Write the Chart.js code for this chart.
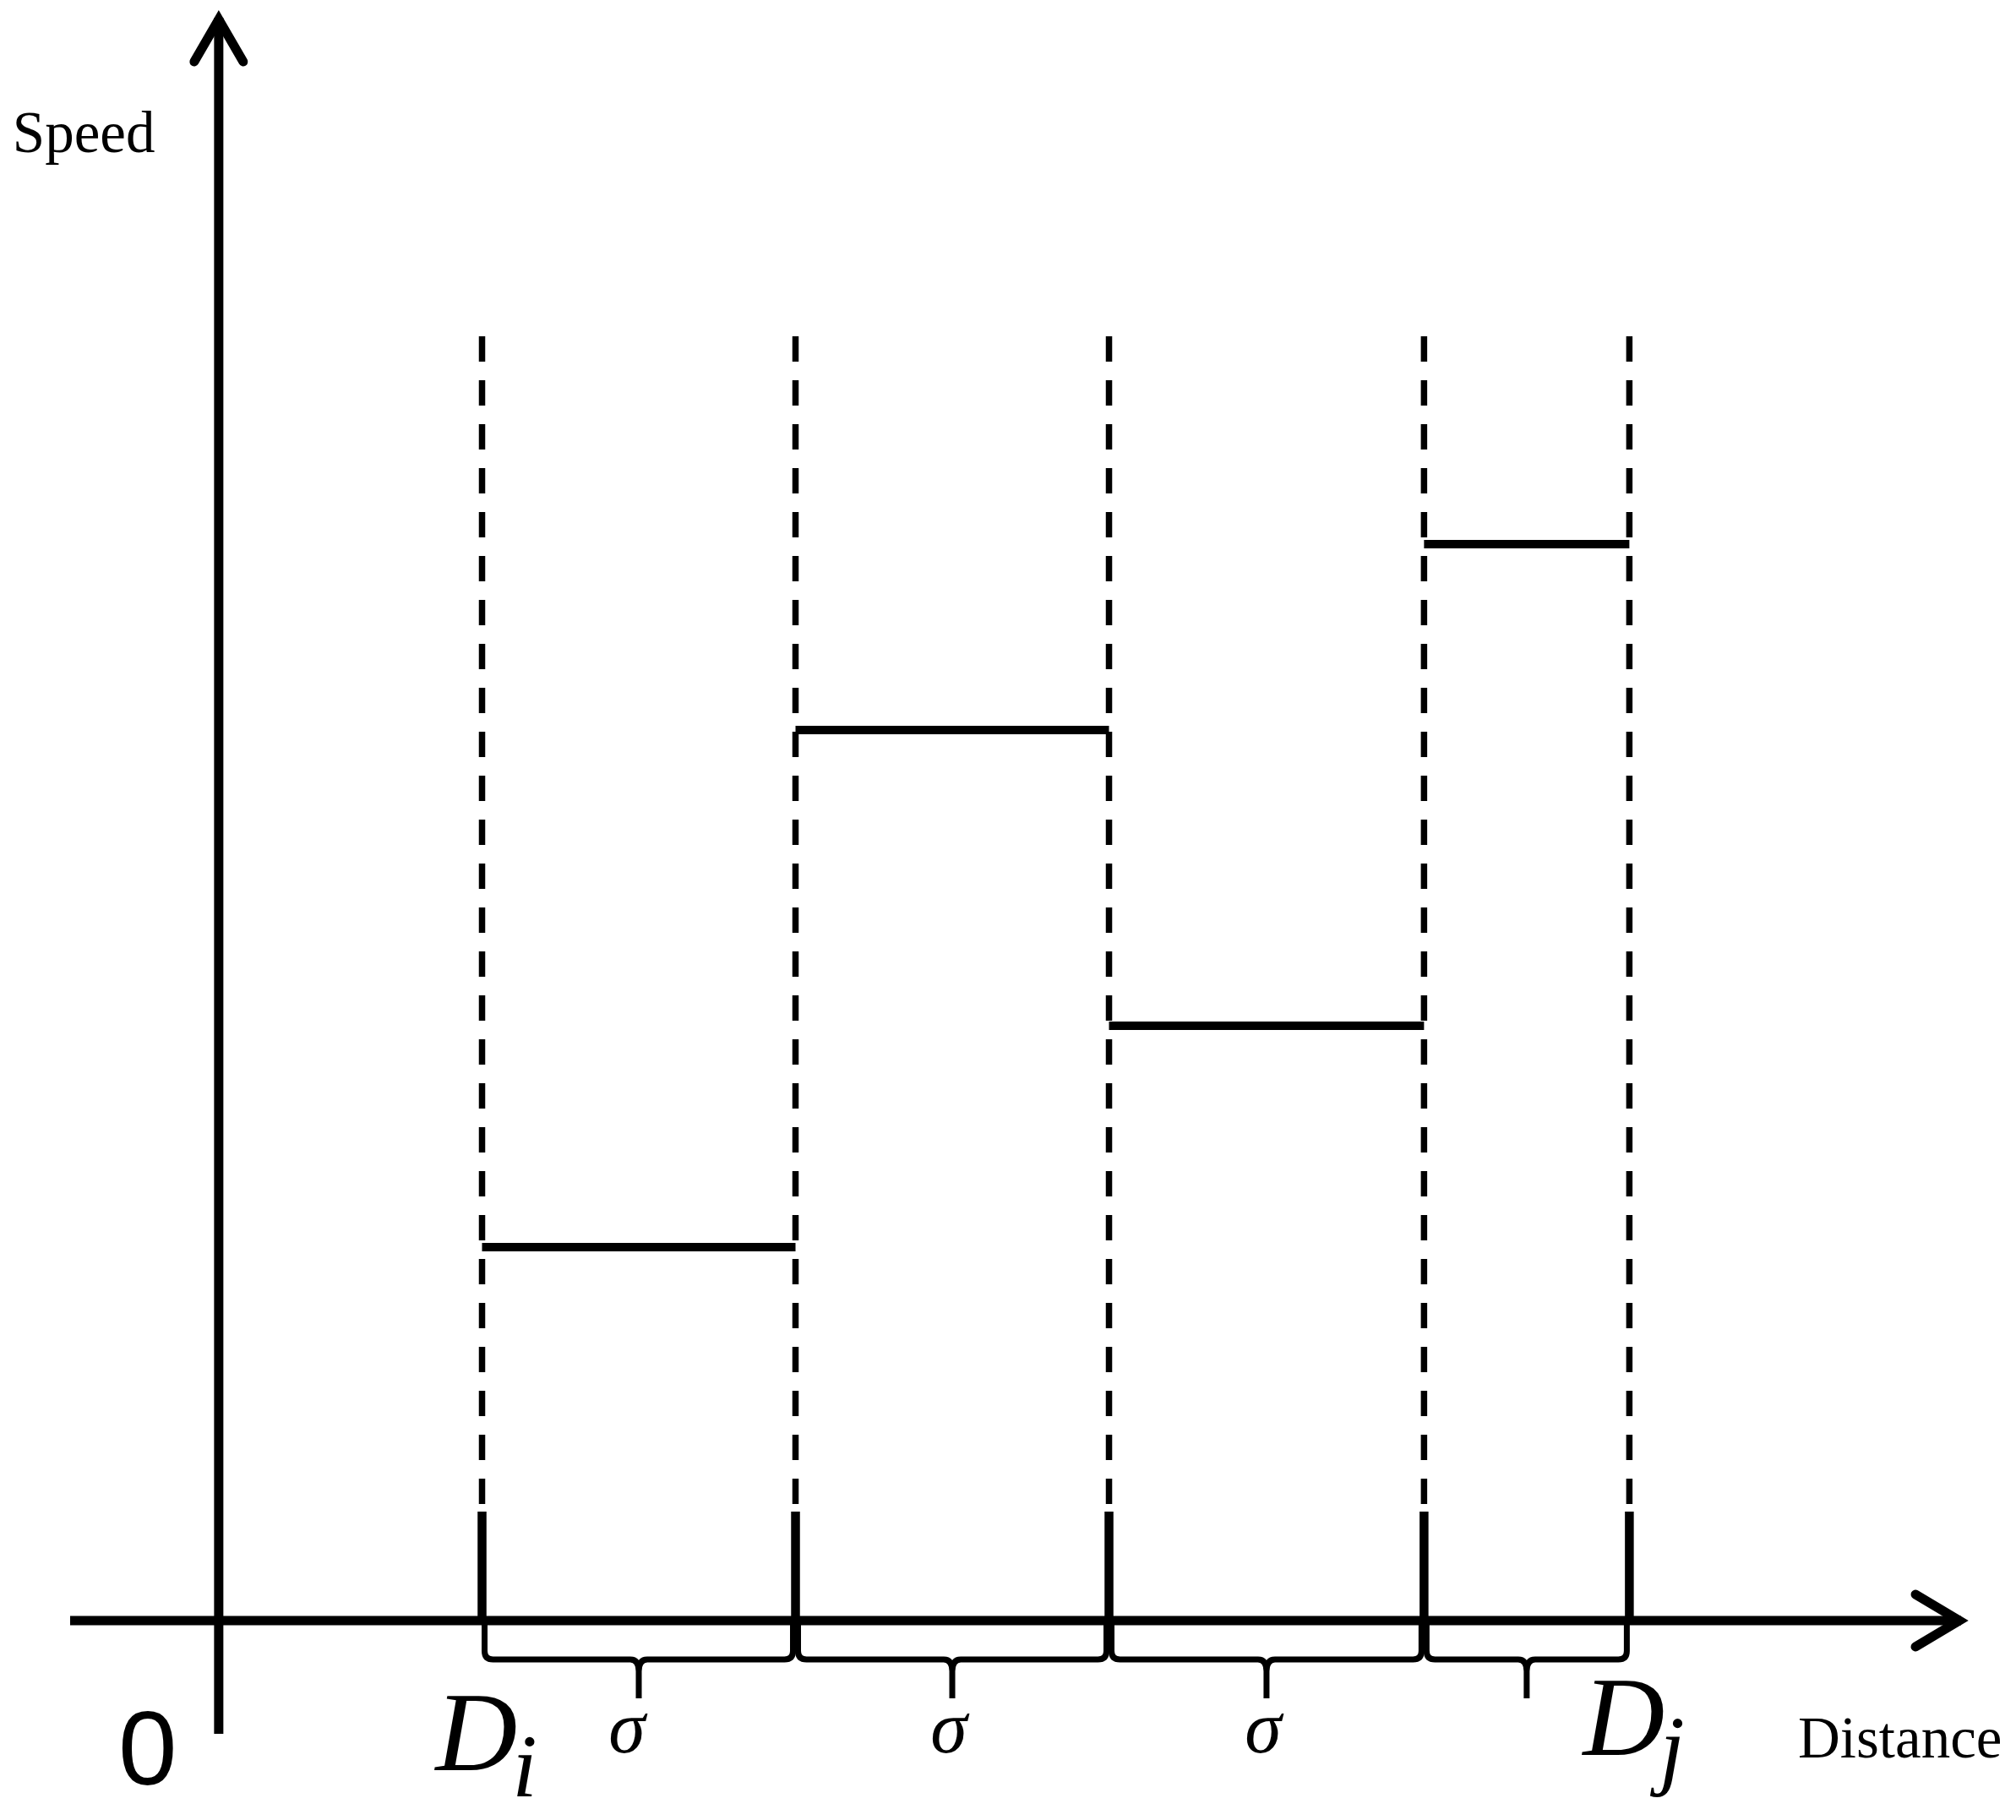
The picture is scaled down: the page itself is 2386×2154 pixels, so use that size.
<!DOCTYPE html>
<html><head><meta charset="utf-8">
<script src="https://cdn.jsdelivr.net/npm/chart.js@4/dist/chart.umd.min.js"></script>
<style>html,body{margin:0;padding:0;background:#fff}#wrap{width:2386px;height:2154px}</style>
</head><body><div id="wrap"><canvas id="c" width="2386" height="2154"></canvas></div>
<script>
// ---- data ----
const breakpoints = [8.4, 18.4, 28.4, 38.45, 45.0];   // distance of each boundary
const speeds = [4.42, 10.54, 7.04, 12.74];           // speed in each interval
const dashTop = 15.2;                                 // top of the dashed boundary lines
const tickTop = 1.29;                                 // top of the solid boundary ticks
const axisXRange = [-4.74, 55.69];
const axisYRange = [-1.34, 19.01];
const boundaryLabels = [{base: 'D', sub: 'i', at: 0}, {base: 'D', sub: 'j', at: 4}];
const intervalLabel = 'σ';
const intervalLabeled = [true, true, true, false];
const axisTitleX = 'Distance';
const axisTitleY = 'Speed';
const originLabel = '0';

// ---- datasets ----
const datasets = [];
speeds.forEach((s, i) => {
  datasets.push({data: [{x: breakpoints[i], y: s}, {x: breakpoints[i + 1], y: s}],
    borderColor: '#000', borderWidth: 10, pointRadius: 0, showLine: true});
});
breakpoints.forEach(b => {
  datasets.push({data: [{x: b, y: dashTop}, {x: b, y: tickTop}],
    borderColor: '#000', borderWidth: 7.5, borderDash: [30, 22], pointRadius: 0, showLine: true});
  datasets.push({data: [{x: b, y: tickTop}, {x: b, y: 0}],
    borderColor: '#000', borderWidth: 10.5, pointRadius: 0, showLine: true});
});

const diagram = {
  id: 'diagram',
  afterDatasetsDraw(chart) {
    const ctx = chart.ctx, xs = chart.scales.x, ys = chart.scales.y;
    const x0 = xs.getPixelForValue(0), y0 = ys.getPixelForValue(0);
    const xL = xs.getPixelForValue(axisXRange[0]), xR = xs.getPixelForValue(axisXRange[1]);
    const yB = ys.getPixelForValue(axisYRange[0]), yT = ys.getPixelForValue(axisYRange[1]);
    ctx.save();
    ctx.strokeStyle = '#000'; ctx.fillStyle = '#000';
    ctx.lineWidth = 11; ctx.lineCap = 'butt';
    // x axis
    ctx.beginPath(); ctx.moveTo(xL, y0); ctx.lineTo(xR - 4, y0); ctx.stroke();
    // y axis
    ctx.beginPath(); ctx.moveTo(x0, yB); ctx.lineTo(x0, yT + 4); ctx.stroke();
    // arrow heads
    ctx.lineJoin = 'miter'; ctx.lineCap = 'round';
    ctx.beginPath(); ctx.moveTo(xR - 58, y0 - 31); ctx.lineTo(xR - 6, y0); ctx.lineTo(xR - 58, y0 + 31); ctx.stroke();
    ctx.beginPath(); ctx.moveTo(x0 - 29, yT + 56); ctx.lineTo(x0, yT + 6); ctx.lineTo(x0 + 29, yT + 56); ctx.stroke();
    // braces
    ctx.lineWidth = 7; ctx.lineCap = 'butt'; ctx.lineJoin = 'round';
    const yh = y0 + 46, yTip = y0 + 92;
    for (let i = 0; i < speeds.length; i++) {
      const a = xs.getPixelForValue(breakpoints[i]) + 3;
      const b = xs.getPixelForValue(breakpoints[i + 1]) - 3;
      const m = (a + b) / 2;
      ctx.beginPath();
      ctx.moveTo(a, y0 + 5); ctx.lineTo(a, yh - 10);
      ctx.quadraticCurveTo(a, yh, a + 10, yh);
      ctx.lineTo(m - 10, yh);
      ctx.quadraticCurveTo(m, yh, m, yh + 14);
      ctx.lineTo(m, yTip);
      ctx.moveTo(m, yh + 14);
      ctx.quadraticCurveTo(m, yh, m + 10, yh);
      ctx.lineTo(b - 10, yh);
      ctx.quadraticCurveTo(b, yh, b, yh - 10);
      ctx.lineTo(b, y0 + 5);
      ctx.stroke();
      if (intervalLabeled[i]) {
        ctx.font = 'italic 88px "Liberation Serif"';
        ctx.textAlign = 'center'; ctx.textBaseline = 'alphabetic';
        ctx.fillText(intervalLabel, m - (i === 0 ? 14 : 4), y0 + 156);
      }
    }
    // boundary labels
    boundaryLabels.forEach(l => {
      const px = xs.getPixelForValue(breakpoints[l.at]);
      const base = l.sub === 'i' ? y0 + 177 : y0 + 159;
      ctx.textAlign = 'left'; ctx.textBaseline = 'alphabetic';
      ctx.font = 'italic 134px "Liberation Serif"';
      const bx = px - 55;
      ctx.fillText(l.base, bx, base);
      const w = ctx.measureText(l.base).width;
      ctx.font = 'italic 106px "Liberation Serif"';
      ctx.fillText(l.sub, bx + w - 6, l.sub === 'i' ? y0 + 208 : y0 + 186);
    });
    // axis titles
    ctx.font = '69px "Liberation Serif"';
    ctx.textAlign = 'left';
    ctx.fillText(axisTitleY, x0 - 244, yT + 163);
    ctx.fillText(axisTitleX, xR - 197, y0 + 162);
    ctx.font = '125px "Liberation Sans"';
    ctx.textAlign = 'center';
    ctx.fillText(originLabel, x0 - 84, y0 + 194);
    ctx.restore();
  }
};

new Chart(document.getElementById('c'), {
  type: 'scatter',
  data: {datasets},
  options: {
    responsive: false, animation: false, devicePixelRatio: 1,
    layout: {padding: {left: 83, right: 61, top: 17, bottom: 102}},
    scales: {
      x: {type: 'linear', display: false, min: axisXRange[0], max: axisXRange[1]},
      y: {type: 'linear', display: false, min: axisYRange[0], max: axisYRange[1]}
    },
    plugins: {legend: {display: false}, tooltip: {enabled: false}},
    events: []
  },
  plugins: [diagram]
});
</script></body></html>
